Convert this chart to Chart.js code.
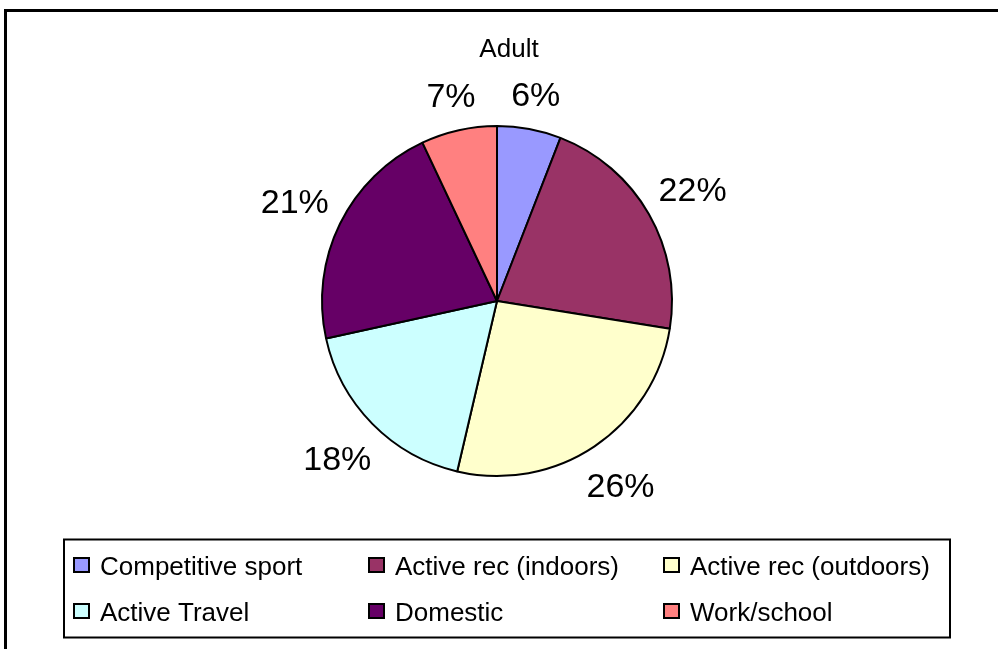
<!DOCTYPE html>
<html>
<head>
<meta charset="utf-8">
<script src="https://cdn.jsdelivr.net/npm/chart.js@4.4.0/dist/chart.umd.min.js"></script>
<style>
  html, body { margin: 0; padding: 0; background: #fff; overflow: hidden; }
  #wrap { position: relative; width: 998px; height: 649px; }
</style>
</head>
<body>
<div id="wrap"><canvas id="pie" width="998" height="649"></canvas></div>
<script>
// data
const title = 'Adult';
const categories = ['Competitive sport', 'Active rec (indoors)', 'Active rec (outdoors)', 'Active Travel', 'Domestic', 'Work/school'];
const shares = [5.9, 21.6, 26.1, 17.9, 21.4, 7.0];
const colors = ['#9999FF', '#993366', '#FFFFCC', '#CCFFFF', '#660066', '#FF8080'];

const FONT = '"Liberation Sans", Arial, sans-serif';

// frame, title and the boxed legend, drawn Excel style
const excelFrame = {
  id: 'excelFrame',
  beforeDraw(chart) {
    const ctx = chart.ctx;
    ctx.save();
    ctx.fillStyle = '#fff';
    ctx.fillRect(0, 0, chart.width, chart.height);
    ctx.fillStyle = '#000';
    ctx.fillRect(4, 9, 3, chart.height - 9);
    ctx.fillRect(4, 9, chart.width - 4, 3);

    ctx.font = '26px ' + FONT;
    ctx.textAlign = 'center';
    ctx.textBaseline = 'alphabetic';
    ctx.fillText(title, 509, 57);
    ctx.restore();
  },
  afterDraw(chart) {
    const ctx = chart.ctx;
    const ds = chart.data.datasets[0];
    ctx.save();
    ctx.strokeStyle = '#000';
    ctx.lineWidth = 2;
    ctx.strokeRect(64, 539.5, 886, 98);

    const cols = [74, 369, 664];
    const rows = [558, 604];
    ctx.font = '26px ' + FONT;
    ctx.textAlign = 'left';
    ctx.textBaseline = 'alphabetic';
    chart.data.labels.forEach((label, i) => {
      const x = cols[i % 3];
      const y = rows[Math.floor(i / 3)];
      ctx.fillStyle = ds.backgroundColor[i];
      ctx.fillRect(x, y, 15, 14);
      ctx.strokeRect(x, y, 15, 14);
      ctx.fillStyle = '#000';
      ctx.fillText(label, x + 26, y + 17);
    });
    ctx.restore();
  }
};

// percentage labels outside the slices
const outsideLabels = {
  id: 'outsideLabels',
  afterDatasetsDraw(chart) {
    const ctx = chart.ctx;
    const meta = chart.getDatasetMeta(0);
    const data = chart.data.datasets[0].data;
    const total = data.reduce((a, b) => a + b, 0);
    const gap = 11;
    const boxH = 40;   // label box height used for spacing
    const capH = 24;   // cap height of the 34px digits
    ctx.save();
    ctx.font = '34px ' + FONT;
    ctx.fillStyle = '#000';
    ctx.textAlign = 'center';
    ctx.textBaseline = 'alphabetic';
    meta.data.forEach((arc, i) => {
      const p = arc.getProps(['x', 'y', 'startAngle', 'endAngle', 'outerRadius'], true);
      const mid = (p.startAngle + p.endAngle) / 2;
      const text = Math.round(data[i] / total * 100) + '%';
      const w = ctx.measureText(text).width;
      const c = Math.cos(mid), s = Math.sin(mid);
      const d = p.outerRadius + gap + Math.abs(c) * w / 2 + Math.abs(s) * boxH / 2;
      ctx.fillText(text, p.x + c * d, p.y + s * d + capH / 2);
    });
    ctx.restore();
  }
};

new Chart(document.getElementById('pie'), {
  type: 'pie',
  data: {
    labels: categories,
    datasets: [{
      data: shares,
      backgroundColor: colors,
      borderColor: '#000',
      borderWidth: 2,
      borderAlign: 'center'
    }]
  },
  options: {
    responsive: false,
    animation: false,
    devicePixelRatio: 1,
    layout: {
      padding: { left: 321, right: 325, top: 125, bottom: 172 }
    },
    plugins: {
      legend: { display: false },
      title: { display: false },
      tooltip: { enabled: false }
    },
    events: []
  },
  plugins: [excelFrame, outsideLabels]
});
</script>
</body>
</html>
